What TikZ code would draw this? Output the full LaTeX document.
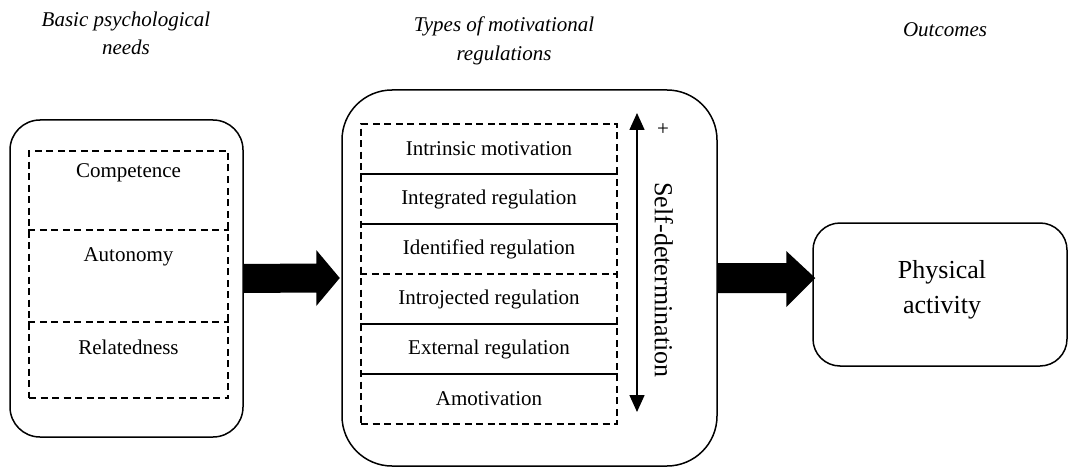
\documentclass[tikz,border=0pt]{standalone}
\usepackage{fontspec}
\setmainfont{Liberation Serif}
\usetikzlibrary{calc,arrows.meta}
\begin{document}
\begin{tikzpicture}[x=1pt,y=-1pt,
  outerbox/.style={draw,line width=1.5pt,inner sep=0pt},
  dashline/.style={line width=1.3pt,dash pattern=on 7pt off 4.5pt},
  dashbox/.style={draw,dashline,inner sep=0pt},
  body/.style={font=\fontsize{21}{25}\selectfont,inner sep=0pt},
  head/.style={font=\fontsize{21}{25}\selectfont\itshape,inner sep=0pt,anchor=base},
  big/.style={font=\fontsize{26}{30}\selectfont,inner sep=0pt},
  fatarrow/.style={fill=black}
]
\useasboundingbox (0,0) rectangle (1068,468);

% headers
\node[head] (h1a) at (126,27) {Basic psychological};
\node[head] (h1b) at (126,55) {needs};
\node[head] (h2a) at (504,32) {Types of motivational};
\node[head] (h2b) at (504,61) {regulations};
\node[head] (h3) at (945,37) {Outcomes};

% left box
\node[outerbox,rounded corners=30pt,minimum width=233pt,minimum height=317pt] (L) at (126.5,278.5) {};
\node[dashbox,minimum width=199pt,minimum height=247pt] (LI) at (128.5,274.5) {};
\coordinate (ld1) at (128.5,230);
\coordinate (ld2) at (128.5,322);
\draw[dashline] (LI.west |- ld1) -- (LI.east |- ld1);
\draw[dashline] (LI.west |- ld2) -- (LI.east |- ld2);
\node[body] (tcomp) at (128.5,173) {Competence};
\node[body] (tauto) at (128.5,257) {Autonomy};
\node[body] (trel) at (128.5,347) {Relatedness};

% middle box
\node[outerbox,rounded corners=50pt,minimum width=375pt,minimum height=376pt] (M) at (529.5,278) {};
\node[dashbox,minimum width=256pt,minimum height=300pt] (MI) at (489,274) {};
\foreach \y/\s in {174/solid,224/solid,274/dashline,324/solid,374/solid}{
  \coordinate (md) at (489,\y);
  \draw[line width=1.2pt,\s] (MI.west |- md) -- (MI.east |- md);
}
\node[body] (r1) at (489,149) {Intrinsic motivation};
\node[body] (r2) at (489,199) {Integrated regulation};
\node[body] (r3) at (489,249) {Identified regulation};
\node[body] (r4) at (489,299) {Introjected regulation};
\node[body] (r5) at (489,349) {External regulation};
\node[body] (r6) at (489,399) {Amotivation};

% self-determination arrow
\coordinate (sdtop) at (637,113);
\coordinate (sdbot) at (637,412);
\draw[line width=1.5pt,{Triangle[width=15pt,length=17pt]}-{Triangle[width=15pt,length=17pt]}] (sdbot) -- (sdtop);
\node[body] (plus) at (663,130) {+};
\node[big,rotate=-90] (sd) at (664,280) {Self-determination};

% right box
\node[outerbox,rounded corners=27pt,minimum width=254pt,minimum height=143pt] (P) at (940,294.5) {};
\node[big] (t1) at (942,272) {Physical};
\node[big] (t2) at (942,308) {activity};

% fat arrows
\fill[fatarrow] ($(L.east)+(0,-14.5)$) -- ($(M.west)+(-25,-14.5)$) -- ($(M.west)+(-25,-28)$)
  -- ($(M.west)+(-1.5,0)$) -- ($(M.west)+(-25,28)$) -- ($(M.west)+(-25,14.5)$) -- ($(L.east)+(0,14.5)$) -- cycle;
\coordinate (a2tip) at (P.west |- M.east);
\fill[fatarrow] ($(M.east)+(0,-15)$) -- ($(a2tip)+(-26,-15)$) -- ($(a2tip)+(-26,-27)$)
  -- ($(a2tip)+(3,0)$) -- ($(a2tip)+(-26,29)$) -- ($(a2tip)+(-26,15)$) -- ($(M.east)+(0,15)$) -- cycle;
\end{tikzpicture}
\end{document}
